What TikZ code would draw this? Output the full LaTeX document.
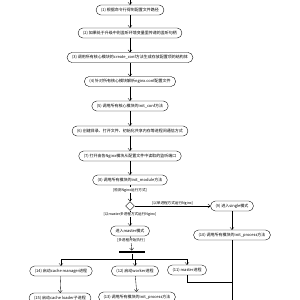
\documentclass[tikz,border=0pt]{standalone}
\usepackage{fontspec}
\usepackage{tikz}
\usetikzlibrary{arrows.meta,shapes.geometric}
\newfontfamily\cjk{Noto Sans CJK SC}

\begin{document}
\begin{tikzpicture}[
        x=1pt, y=-1pt,
        stepbox/.style={draw, line width=0.35pt, rounded corners=4.8pt, minimum height=10pt,
            inner xsep=5pt, inner ysep=1pt, font=\cjk\fontsize{4}{4.8}\selectfont},
        guard/.style={fill=white, inner sep=0.6pt, font=\cjk\fontsize{3.6}{4.4}\selectfont},
        flow/.style={line width=0.35pt, -{Straight Barb[length=2.2pt,width=4pt]}},
        plain/.style={line width=0.35pt},
        bar/.style={fill=black, minimum width=26pt, minimum height=2.6pt, inner sep=0pt}
    ]
        \useasboundingbox (0,0) rectangle (300,300);
        \clip (0,0) rectangle (300,300);
        \fill[white] (0,0) rectangle (300,300);

        % Main column
        \coordinate (start) at (130,-5);
        \node[stepbox] (n1) at (130,10) {(1)\ 根据命令行得到配置文件路径};
        \node[stepbox] (n2) at (130,33) {(2)\ 如果处于升级中则监听环境变量里传递的监听句柄};
        \node[stepbox] (n3) at (130,57.5) {(3)\ 调用所有核心模块的create\_conf方法生成存放配置项的结构体};
        \node[stepbox] (n4) at (130,81.5) {(4)\ 针对所有核心模块解析nginx.conf配置文件};
        \node[stepbox] (n5) at (130,106) {(5)\ 调用所有核心模块的init\_conf方法};
        \node[stepbox] (n6) at (130,131) {(6)\ 创建目录、打开文件、初始化共享内存等进程间通信方式};
        \node[stepbox] (n7) at (130,156) {(7)\ 打开由各Nginx模块从配置文件中读取的监听端口};
        \node[stepbox] (n8) at (130,180) {(8)\ 调用所有模块的init\_module方法};

        % Choice of running mode
        \node[diamond, draw, line width=0.35pt, minimum size=9pt, inner sep=0pt] (choice) at (130,206) {};
        \node[stepbox] (n9) at (232,206) {(9)\ 进入single模式};
        \node[stepbox] (n10) at (232,235) {(10)\ 调用所有模块的init\_process方法};
        \node[stepbox] (master) at (130,231) {进入master模式};
        \node[bar] (fork) at (132,252) {};

        % Processes
        \node[stepbox] (n14) at (61,271) {(14)\ 启动cache manager进程};
        \node[stepbox] (n12) at (135,271) {(12)\ 启动worker进程};
        \node[stepbox] (n11) at (187,270) {(11)\ master进程};
        \node[stepbox] (n15) at (60,298) {(15)\ 启动cache loader子进程};
        \node[stepbox] (n13) at (137,297) {(13)\ 调用所有模块的init\_process方法};

        \coordinate (split) at (132,259);
        \coordinate (merge) at (232,282);
        \coordinate (tail) at (232,320);

        \draw[flow] (start) -- (n1);
        \foreach \a/\b in {n1/n2, n2/n3, n3/n4, n4/n5, n5/n6, n6/n7, n7/n8}
            \draw[flow] (\a) -- (\b);
        \draw[flow] (n8) -- node[guard, pos=0.3] {[检测Nginx运行方式]} (choice);
        \draw[flow] (choice) -- node[guard, above=0.3pt, fill=none] {[以单进程方式运行Nginx]} (n9);
        \draw[flow] (choice) -- node[guard, pos=0.28] {[以master多进程方式运行Nginx]} (master);
        \draw[flow] (master) -- node[guard, pos=0.3] {[多进程开始执行]} (fork);
        \draw[flow] (n9) -- (n10);

        % Fork to processes
        \draw[plain] (fork) -- (split);
        \draw[plain] (n14 |- split) -- (n11 |- split);
        \foreach \p in {n14, n12, n11}
            \draw[flow] (\p |- split) -- (\p);
        \draw[flow] (n14) -- (n15);
        \draw[flow] (n12) -- (n13);
        \draw[plain] (n11) |- (merge);
        \draw[plain] (n10) -- (tail);
\end{tikzpicture}
\end{document}
